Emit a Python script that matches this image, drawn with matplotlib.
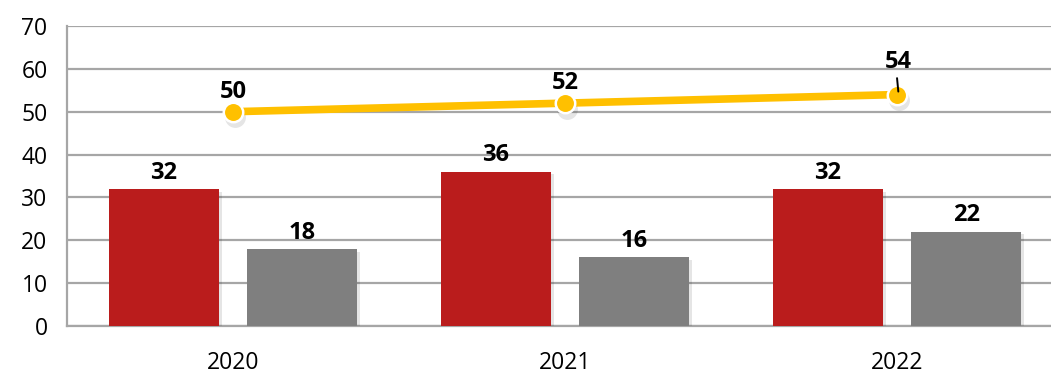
import matplotlib.pyplot as plt
import matplotlib.patheffects as pe
import matplotlib.transforms as mtransforms
import numpy as np

years = ["2020", "2021", "2022"]
series_red = [32, 36, 32]
series_grey = [18, 16, 22]
series_line = [50, 52, 54]

RED = "#BA1C1C"
GREY = "#7F7F7F"
GOLD = "#FFC000"
AXIS = "#A6A6A6"

plt.rcParams["font.family"] = ["Open Sans", "DejaVu Sans"]

W, H = 1051, 376
fig = plt.figure(figsize=(W / 100, H / 100), dpi=100)
# plot area runs slightly past the right edge of the canvas
left, right, top, bottom = 67, 1063, 26, 326
ax = fig.add_axes([left / W, 1 - bottom / H, (right - left) / W, (bottom - top) / H])

x = np.arange(len(years))
off, bw = 0.208, 0.331

shadow = [pe.SimplePatchShadow(offset=(2, -2), shadow_rgbFace="#000000", alpha=0.10), pe.Normal()]
ax.bar(x - off, series_red, bw, color=RED, zorder=3, path_effects=shadow)
ax.bar(x + off, series_grey, bw, color=GREY, zorder=3, path_effects=shadow)

ax.plot(x, series_line, color=GOLD, lw=5.5, zorder=4, solid_capstyle="round")
# soft drop shadow under the markers
sh = mtransforms.offset_copy(ax.transData, fig=fig, x=1.5, y=-4, units="points")
ax.plot(x, series_line, "o", ms=15, color="#000000", alpha=0.10, mew=0, transform=sh, zorder=3.5)
ax.plot(x, series_line, "o", ms=14, mfc=GOLD, mec="white", mew=1.8, zorder=5)

lab = dict(ha="center", va="bottom", fontsize=17, fontweight="bold", color="black", zorder=6)
for xi, v in zip(x - off, series_red):
    ax.text(xi, v + 1.0, str(v), **lab)
for xi, v in zip(x + off, series_grey):
    ax.text(xi, v + 1.0, str(v), **lab)
for i, (xi, v) in enumerate(zip(x, series_line)):
    if i == len(x) - 1:
        # last label sits higher, tied back to its point with a short leader
        ax.annotate(str(v), xy=(xi + 0.004, v + 0.7), xytext=(xi + 0.003, v + 4.8), textcoords="data",
                    arrowprops=dict(arrowstyle="-", color="black", lw=1.4, shrinkA=1, shrinkB=0,
                                    relpos=(0.45, 0)),
                    **lab)
    else:
        ax.text(xi, v + 1.9, str(v), **lab)

ax.set_xlim(-0.5, 2.5)
ax.set_ylim(0, 70)
ax.set_yticks(range(0, 71, 10))
ax.set_xticks(x)
ax.set_xticklabels(years)
ax.yaxis.grid(True, color=AXIS, lw=1.6, zorder=0)
ax.set_axisbelow(True)
for s in ["top", "right"]:
    ax.spines[s].set_visible(False)
for s in ["left", "bottom"]:
    ax.spines[s].set_color(AXIS)
    ax.spines[s].set_linewidth(1.6)
ax.tick_params(axis="y", length=0, labelsize=16.5, pad=14)
ax.tick_params(axis="x", length=0, labelsize=16.5, pad=18)

fig.savefig("out.png", dpi=100)
